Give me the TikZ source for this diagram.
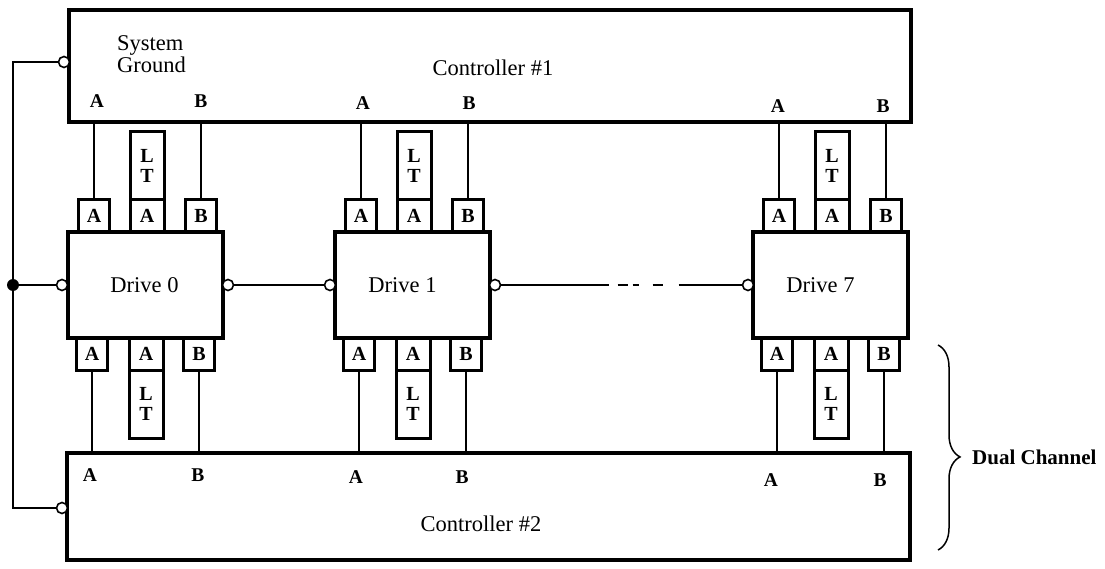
\documentclass[tikz,border=0pt]{standalone}
\usepackage{fontspec}
\setmainfont{Liberation Serif}
\usetikzlibrary{decorations.pathreplacing}
\newcommand{\drivegroup}[4]{% name, left x, label, label shift
  \node[bigbox, minimum width=155pt, minimum height=106pt] (#1) at (#2+77.5,285) {};
  \node[lbl] at (#2+77.5+#4,285) {#3};
  \node[port] (#1TA) at (#2+26,216) {A};
  \node[ltport] (#1TL) at (#2+79,216) {A};
  \node[ltbox, anchor=south] (#1TT) at (#1TL.north) {L\\T};
  \node[port] (#1TB) at (#2+133,216) {B};
  \node[port] (#1BA) at (#2+24,354) {A};
  \node[ltport] (#1BL) at (#2+78,354) {A};
  \node[ltbox, anchor=north] (#1BT) at (#1BL.south) {L\\T};
  \node[port] (#1BB) at (#2+131,354) {B};
  \draw[wire] (#1TA.north) -- (#1TA.north |- c1.south);
  \draw[wire] (#1TB.north) -- (#1TB.north |- c1.south);
  \draw[wire] (#1BA.south) -- (#1BA.south |- c2.north);
  \draw[wire] (#1BB.south) -- (#1BB.south |- c2.north);
}
\begin{document}
\begin{tikzpicture}[x=1pt,y=-1pt,
  bigbox/.style={draw, line width=3.5pt, outer sep=0pt, inner sep=0pt},
  port/.style={draw, fill=white, line width=3pt, outer sep=0pt, inner sep=0pt, minimum width=31pt, minimum height=32pt, font=\fontsize{20}{22}\selectfont\bfseries},
  ltport/.style={port, minimum width=34pt},
  ltbox/.style={draw, line width=3pt, outer sep=0pt, inner sep=0pt, minimum width=34pt, minimum height=68pt, align=center, font=\fontsize{20}{20}\selectfont\bfseries},
  wire/.style={line width=1.2pt},
  oc/.style={circle, draw, fill=white, line width=1.6pt, minimum size=11pt, inner sep=0pt, outer sep=0pt},
  gdot/.style={circle, fill=black, minimum size=12pt, inner sep=0pt, outer sep=0pt},
  lbl/.style={font=\fontsize{22.5}{20}\selectfont},
  ab/.style={font=\fontsize{19.5}{20}\selectfont\bfseries, inner sep=0pt},
]
\useasboundingbox (0,0) rectangle (1105,569);

% controllers
\node[bigbox, minimum width=842pt, minimum height=112pt] (c1) at (490,66) {};
\node[bigbox, minimum width=843pt, minimum height=107pt] (c2) at (488.5,506.5) {};
\node[lbl] (c1t) at (493,68) {Controller \#1};
\node[lbl] (c2t) at (481,524) {Controller \#2};
\node[lbl, align=left, anchor=west, inner sep=0pt] (sg) at (117,54) {System\\Ground};

% channel labels in controllers
\node[ab] (c1a0) at (97,101) {A};
\node[ab] (c1b0) at (201,101) {B};
\node[ab] (c1a1) at (363,103) {A};
\node[ab] (c1b1) at (469,103) {B};
\node[ab] (c1a7) at (778,106) {A};
\node[ab] (c1b7) at (883,106) {B};
\node[ab] (c2a0) at (90,475) {A};
\node[ab] (c2b0) at (198,475) {B};
\node[ab] (c2a1) at (356,477) {A};
\node[ab] (c2b1) at (462,477) {B};
\node[ab] (c2a7) at (771,480) {A};
\node[ab] (c2b7) at (880,480) {B};

% drives
\drivegroup{d0}{68}{Drive 0}{-1}
\drivegroup{d1}{335}{Drive 1}{-10}
\drivegroup{d7}{753}{Drive 7}{-10}

% ground and daisy chain
\node[oc] (g1) at (64,62) {};
\node[oc] (g2) at (62,508) {};
\node[gdot] (gd) at (13,285) {};
\node[oc] (d0L) at (62,285) {};
\node[oc] (d0R) at (228,285) {};
\node[oc] (d1L) at (330,285) {};
\node[oc] (d1R) at (495,285) {};
\node[oc] (d7L) at (748,285) {};
\draw[wire] (g1) -| (gd);
\draw[wire] (gd) |- (g2);
\draw[wire] (gd) -- (d0L);
\draw[wire] (d0R) -- (d1L);
\draw[wire, dash pattern=on 108pt off 9pt on 10pt off 5pt on 6pt off 14pt on 10pt off 16pt on 120pt] (d1R) -- (d7L);

% dual channel brace
\coordinate (bt) at (938,345);
\coordinate (bb) at (938,550);
\draw[line width=1.5pt, decorate, decoration={brace, amplitude=22pt, aspect=0.546}] (bt) -- (bb);
\node[font=\fontsize{21}{24}\selectfont\bfseries, anchor=west, inner sep=0pt] (dc) at (972,457) {Dual Channel};
\end{tikzpicture}
\end{document}
